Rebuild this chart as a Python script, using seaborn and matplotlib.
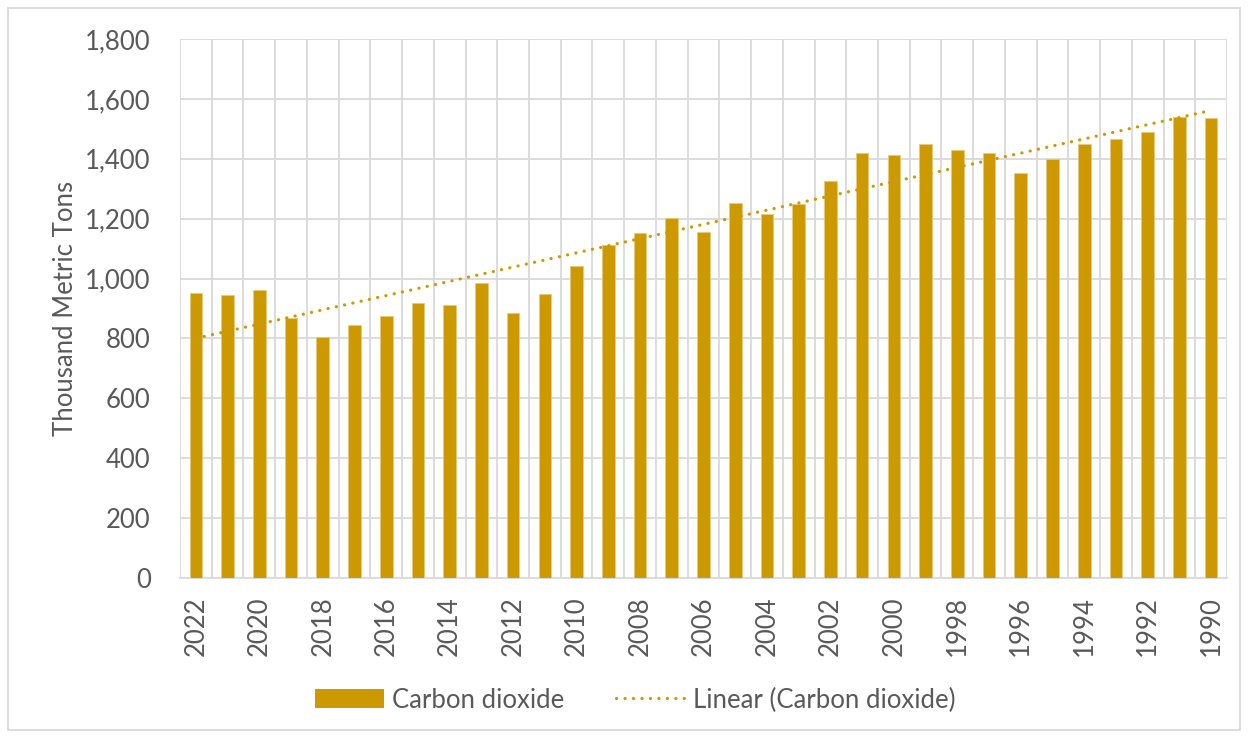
import numpy as np
import pandas as pd
import matplotlib
matplotlib.use("Agg")
import matplotlib.pyplot as plt
from matplotlib.patches import Rectangle, Patch
from matplotlib.lines import Line2D
from matplotlib.ticker import FuncFormatter, MultipleLocator
import seaborn as sns

years = [2022, 2021, 2020, 2019, 2018, 2017, 2016, 2015, 2014, 2013, 2012,
         2011, 2010, 2009, 2008, 2007, 2006, 2005, 2004, 2003, 2002, 2001,
         2000, 1999, 1998, 1997, 1996, 1995, 1994, 1993, 1992, 1991, 1990]
co2 = [951, 946, 961, 869, 806, 845, 875, 920, 912, 985, 886,
       949, 1043, 1111, 1152, 1203, 1154, 1252, 1217, 1248, 1325, 1418,
       1412, 1450, 1429, 1420, 1354, 1398, 1451, 1466, 1490, 1539, 1537]
shown_labels = [str(y) if y % 2 == 0 else "" for y in years]

bar_color = "#CC9900"
text_color = "#595959"
grid_color = "#D9D9D9"
fs = 18.5

sns.set_theme(style="white")
plt.rcParams["font.family"] = ["Lato", "DejaVu Sans"]

df = pd.DataFrame({"year": [str(y) for y in years], "value": co2})

fig = plt.figure(figsize=(12.48, 7.38), dpi=100)
W, H = 1248, 738
ax = fig.add_axes([180 / W, 1 - 578 / H, 1047 / W, 539 / H])

sns.barplot(data=df, x="year", y="value", color=bar_color, width=0.4,
            saturation=1, ax=ax, edgecolor="#E8C97A", linewidth=0.6, zorder=3)

# least-squares linear trend over category positions
pos = np.arange(len(years))
slope, intercept = np.polyfit(pos, co2, 1)
trend = slope * pos + intercept
ax.plot(pos, trend, color=bar_color, linewidth=2.3,
        linestyle=(0, (0.05, 2.6)), dash_capstyle="round", zorder=4)

ax.set_xlim(-0.5, len(years) - 0.5)
ax.set_ylim(0, 1800)
ax.yaxis.set_major_locator(MultipleLocator(200))
ax.yaxis.set_major_formatter(FuncFormatter(lambda v, p: f"{int(v):,}"))

# horizontal and category-boundary gridlines
for v in range(200, 1801, 200):
    ax.axhline(v, color=grid_color, linewidth=1.3, zorder=1)
for b in np.arange(-0.5, len(years), 1.0):
    ax.axvline(b, color=grid_color, linewidth=1.3, zorder=1)

for s in ["top", "right", "left"]:
    ax.spines[s].set_visible(False)
ax.spines["bottom"].set_color(grid_color)
ax.spines["bottom"].set_linewidth(1.3)

ax.set_xticks(pos)
ax.set_xticklabels(shown_labels, rotation=90, fontsize=fs, color=text_color)
ax.tick_params(axis="x", length=0, pad=13)
ax.tick_params(axis="y", length=0, pad=21, labelsize=fs, labelcolor=text_color)
ax.set_xlabel("")
ax.set_ylabel("Thousand Metric Tons", fontsize=fs, color=text_color, labelpad=5)

handles = [Patch(facecolor=bar_color, edgecolor="none"),
           Line2D([0], [0], color=bar_color, linewidth=2.3,
                  linestyle=(0, (0.05, 2.6)), dash_capstyle="round")]
fig.legend(handles, ["Carbon dioxide", "Linear (Carbon dioxide)"],
           loc="center", bbox_to_anchor=(0.509, 1 - 700 / H), ncol=2,
           frameon=False, fontsize=fs, labelcolor=text_color,
           handlelength=2.7, handleheight=0.8, columnspacing=2.0,
           handletextpad=0.3)

fig.patches.append(Rectangle((8 / W, 8 / H), (1240 - 8) / W, (730 - 8) / H,
                             transform=fig.transFigure, fill=False,
                             edgecolor=grid_color, linewidth=1.3))

fig.savefig("out.png", dpi=100)
